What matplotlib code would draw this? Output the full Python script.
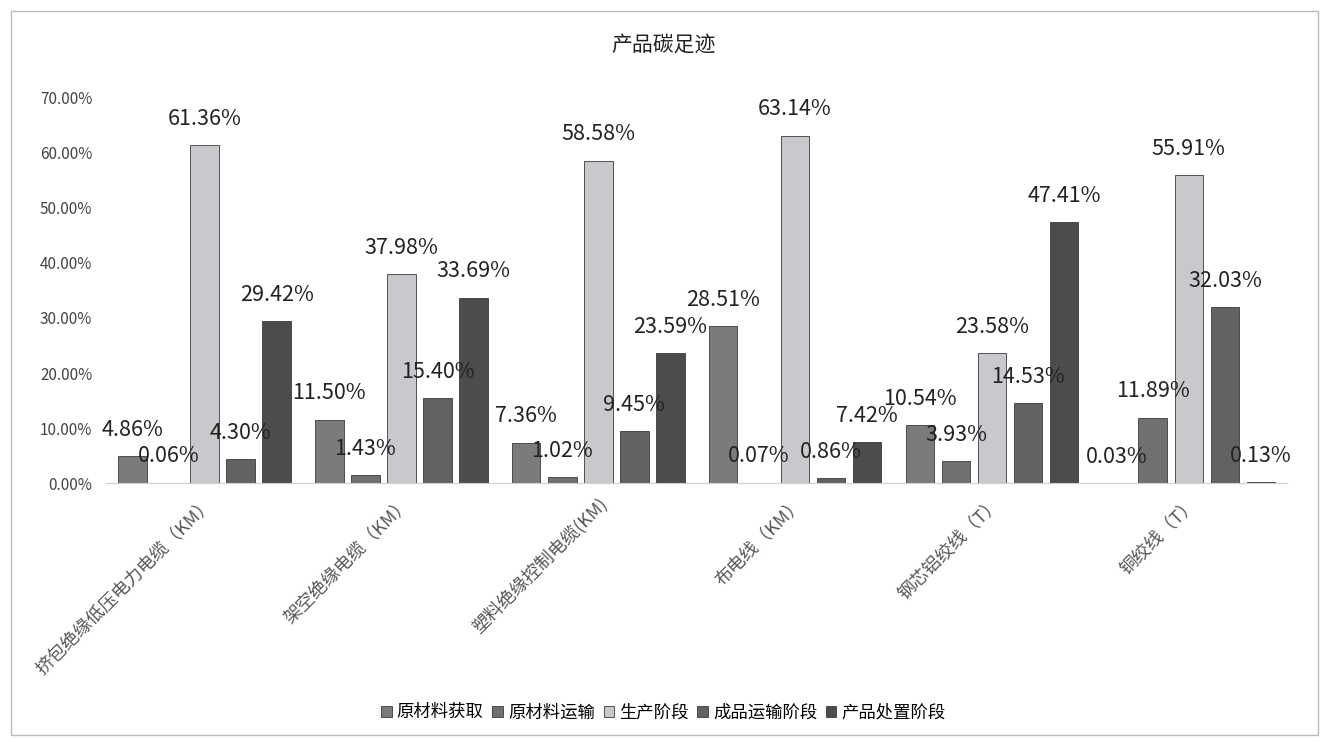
import numpy as np
import matplotlib
matplotlib.use("Agg")
import matplotlib.pyplot as plt
import matplotlib.transforms as mtransforms
from matplotlib.patches import Rectangle

plt.rcParams['font.family'] = ['Noto Sans CJK SC', 'DejaVu Sans']

categories = ['挤包绝缘低压电力电缆（KM）', '架空绝缘电缆（KM）', '塑料绝缘控制电缆(KM)',
              '布电线（KM）', '钢芯铝绞线（T）', '铜绞线（T）']
series_names = ['原材料获取', '原材料运输', '生产阶段', '成品运输阶段', '产品处置阶段']

raw_material = [4.86, 11.50, 7.36, 28.51, 10.54, 0.03]
raw_transport = [0.06, 1.43, 1.02, 0.07, 3.93, 11.89]
production = [61.36, 37.98, 58.58, 63.14, 23.58, 55.91]
product_transport = [4.30, 15.40, 9.45, 0.86, 14.53, 32.03]
disposal = [29.42, 33.69, 23.59, 7.42, 47.41, 0.13]

series = [raw_material, raw_transport, production, product_transport, disposal]
colors = ['#7b7b7d', '#707072', '#c9c9cd', '#626264', '#4c4c4e']

fig = plt.figure(figsize=(13.27, 7.42), dpi=100)
ax = fig.add_axes([0.08, 0.349, 0.89, 0.519])

x = np.arange(len(categories))
step = 0.183
width = 0.145
for i, (vals, name, c) in enumerate(zip(series, series_names, colors)):
    pos = x + (i - 2) * step
    ax.bar(pos, vals, width, color=c, edgecolor='#3a3a3a', linewidth=0.6, label=name)
    for px, v in zip(pos, vals):
        ax.annotate(f'{v:.2f}%', (px, v), xytext=(0, 11), textcoords='offset points',
                    ha='center', va='bottom', fontsize=15.5, color='#222222')

ax.set_xlim(-0.5, len(categories) - 0.5)
ax.set_ylim(0, 70)
ax.set_yticks(np.arange(0, 71, 10))
ax.set_yticklabels([f'{t:.2f}%' for t in range(0, 71, 10)], fontsize=11, color='#444444')
ax.set_xticks(x)
ax.set_xticklabels(categories, rotation=45, ha='right', rotation_mode='anchor',
                   fontsize=13, color='#555555')
shift = mtransforms.ScaledTranslation(12 / 100, 0, fig.dpi_scale_trans)
for lab in ax.get_xticklabels():
    lab.set_transform(lab.get_transform() + shift)
ax.tick_params(axis='both', length=0)
ax.tick_params(axis='x', pad=8)
ax.tick_params(axis='y', pad=10)
for s in ['top', 'right', 'left']:
    ax.spines[s].set_visible(False)
ax.spines['bottom'].set_color('#d0d0d0')

fig.text(0.5, 0.94, '产品碳足迹', ha='center', va='center', fontsize=15, color='#222222')

ax.legend(loc='center', bbox_to_anchor=(0.5, 0.04), bbox_transform=fig.transFigure,
          ncol=5, frameon=False, fontsize=12.5, handlelength=0.6, handleheight=0.6,
          handletextpad=0.3, columnspacing=0.5)

fig.patches.append(Rectangle((0.008, 0.01), 0.985, 0.975, transform=fig.transFigure,
                             fill=False, edgecolor='#bbbbbb', linewidth=1))

fig.savefig('out.png', dpi=100)
